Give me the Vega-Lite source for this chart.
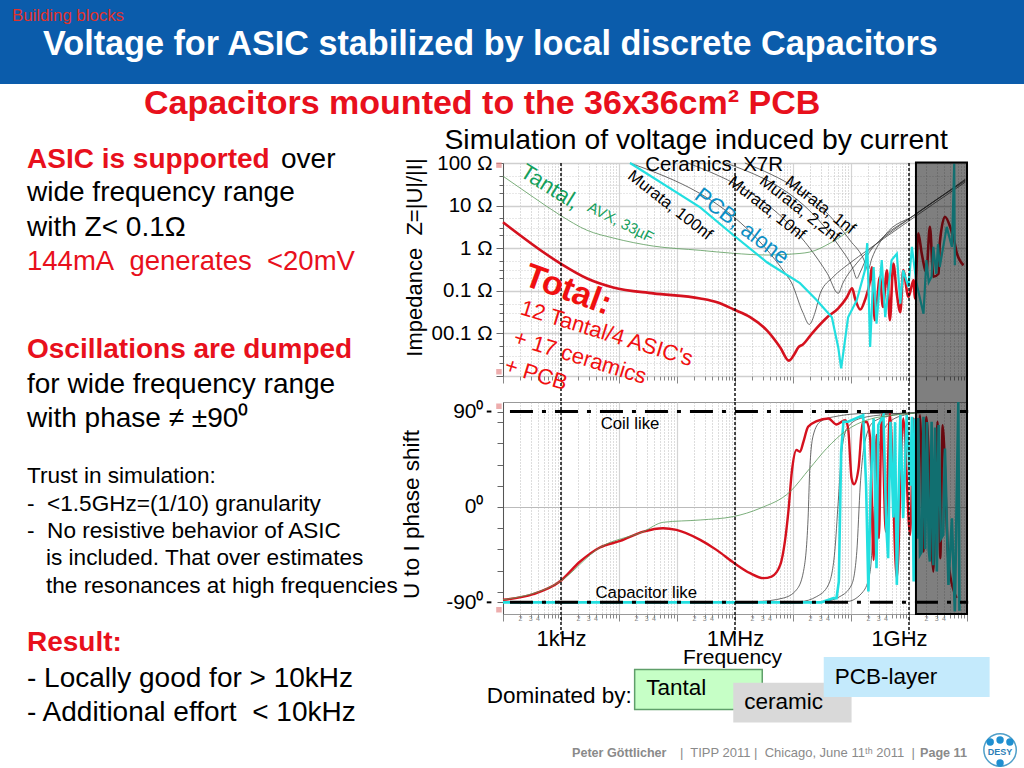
{
"$schema":"https://vega.github.io/schema/vega-lite/v6.json",
"padding":0,"background":"white","spacing":0,"bounds":"flush",
"config":{"font":"Liberation Sans","view":{"stroke":null},"text":{"font":"Liberation Sans"},"axis":{"labelFont":"Liberation Sans","titleFont":"Liberation Sans"}},
"datasets":{
"curvesZ":[
{"series":"100nf","f":4.19,"z":2.0},{"series":"100nf","f":6.95,"z":-0.75},{"series":"100nf","f":7.17,"z":-1.51},{"series":"100nf","f":7.28,"z":-1.79},{"series":"100nf","f":7.38,"z":-1.51},{"series":"100nf","f":7.47,"z":-1.06},{"series":"100nf","f":7.69,"z":-0.68},{"series":"100nf","f":7.98,"z":-0.35},{"series":"100nf","f":8.28,"z":-0.05},{"series":"100nf","f":8.84,"z":0.49},{"series":"100nf","f":9.97,"z":1.55},
{"series":"10nf","f":5.19,"z":2.0},{"series":"10nf","f":7.59,"z":-0.59},{"series":"10nf","f":7.78,"z":-1.06},{"series":"10nf","f":7.86,"z":-0.82},{"series":"10nf","f":8.10,"z":-0.35},{"series":"10nf","f":8.45,"z":0.12},{"series":"10nf","f":8.97,"z":0.66},{"series":"10nf","f":9.97,"z":1.58},
{"series":"2.2nf","f":5.84,"z":2.0},{"series":"2.2nf","f":7.81,"z":0.02},{"series":"2.2nf","f":8.03,"z":-0.47},{"series":"2.2nf","f":8.10,"z":-0.71},{"series":"2.2nf","f":8.16,"z":-0.56},{"series":"2.2nf","f":8.29,"z":-0.16},{"series":"2.2nf","f":8.50,"z":0.19},{"series":"2.2nf","f":9.02,"z":0.71},{"series":"2.2nf","f":9.97,"z":1.6},
{"series":"1nf","f":6.17,"z":2.0},{"series":"1nf","f":7.98,"z":0.19},{"series":"1nf","f":8.24,"z":-0.33},{"series":"1nf","f":8.29,"z":-0.52},{"series":"1nf","f":8.36,"z":-0.24},{"series":"1nf","f":8.59,"z":0.31},{"series":"1nf","f":9.10,"z":0.78},{"series":"1nf","f":9.97,"z":1.62},
{"series":"Tantal","f":2,"z":1.69},{"series":"Tantal","f":2.52,"z":1.20},{"series":"Tantal","f":2.98,"z":0.78},{"series":"Tantal","f":3.45,"z":0.42},{"series":"Tantal","f":3.90,"z":0.24},{"series":"Tantal","f":4.59,"z":0.05},{"series":"Tantal","f":5.40,"z":-0.05},{"series":"Tantal","f":5.97,"z":-0.12},{"series":"Tantal","f":6.55,"z":-0.16},{"series":"Tantal","f":6.95,"z":-0.14},{"series":"Tantal","f":7.29,"z":-0.09},{"series":"Tantal","f":7.64,"z":0.12},{"series":"Tantal","f":7.81,"z":0.26},{"series":"Tantal","f":8.1,"z":0.58},
{"series":"Total","f":2,"z":0.61},{"series":"Total","f":2.98,"z":-0.35},{"series":"Total","f":3.45,"z":-0.71},{"series":"Total","f":3.90,"z":-0.92},{"series":"Total","f":4.59,"z":-1.06},{"series":"Total","f":5.40,"z":-1.18},{"series":"Total","f":5.69,"z":-1.27},{"series":"Total","f":5.98,"z":-1.44},{"series":"Total","f":6.26,"z":-1.62},{"series":"Total","f":6.55,"z":-1.93},{"series":"Total","f":6.78,"z":-2.33},{"series":"Total","f":6.93,"z":-2.64},{"series":"Total","f":7.03,"z":-2.47},{"series":"Total","f":7.09,"z":-2.33},{"series":"Total","f":7.17,"z":-2.26},{"series":"Total","f":7.34,"z":-1.98},{"series":"Total","f":7.59,"z":-1.62},{"series":"Total","f":7.78,"z":-1.41},{"series":"Total","f":7.93,"z":-1.15},{"series":"Total","f":8.02,"z":-0.94},{"series":"Total","f":8.07,"z":-1.18},{"series":"Total","f":8.16,"z":-1.44},{"series":"Total","f":8.24,"z":-1.22},{"series":"Total","f":8.33,"z":-0.75},{"series":"Total","f":8.36,"z":-0.45},{"series":"Total","f":8.41,"z":-1.69},{"series":"Total","f":8.50,"z":-0.67},{"series":"Total","f":8.55,"z":-1.38},{"series":"Total","f":8.62,"z":-0.52},{"series":"Total","f":8.67,"z":-1.69},{"series":"Total","f":8.73,"z":-0.36},{"series":"Total","f":8.79,"z":-1.07},{"series":"Total","f":8.85,"z":-1.50},{"series":"Total","f":8.90,"z":-0.52},{"series":"Total","f":8.99,"z":-1.14},{"series":"Total","f":9.08,"z":-0.75},{"series":"Total","f":9.10,"z":-1.18},{"series":"Total","f":9.16,"z":0.35},{"series":"Total","f":9.22,"z":-0.13},{"series":"Total","f":9.30,"z":-0.56},{"series":"Total","f":9.36,"z":0.50},{"series":"Total","f":9.42,"z":-0.67},{"series":"Total","f":9.51,"z":-0.60},{"series":"Total","f":9.53,"z":0.11},{"series":"Total","f":9.62,"z":0.74},{"series":"Total","f":9.71,"z":0.50},{"series":"Total","f":9.79,"z":0.11},{"series":"Total","f":9.82,"z":-0.09},{"series":"Total","f":9.94,"z":-0.40},
{"series":"PCB","f":4.19,"z":2.0},{"series":"PCB","f":5.40,"z":0.96},{"series":"PCB","f":5.97,"z":0.31},{"series":"PCB","f":6.55,"z":-0.33},{"series":"PCB","f":7.12,"z":-0.82},{"series":"PCB","f":7.41,"z":-1.22},{"series":"PCB","f":7.67,"z":-1.62},{"series":"PCB","f":7.78,"z":-2.33},{"series":"PCB","f":7.83,"z":-2.82},{"series":"PCB","f":7.88,"z":-2.33},{"series":"PCB","f":7.95,"z":-1.62},{"series":"PCB","f":8.10,"z":-1.22},{"series":"PCB","f":8.24,"z":-0.52},{"series":"PCB","f":8.28,"z":0.12},{"series":"PCB","f":8.33,"z":-2.32},{"series":"PCB","f":8.39,"z":-0.44},{"series":"PCB","f":8.44,"z":-1.77},{"series":"PCB","f":8.53,"z":-0.28},{"series":"PCB","f":8.59,"z":-1.62},{"series":"PCB","f":8.70,"z":-0.28},{"series":"PCB","f":8.79,"z":-0.13},{"series":"PCB","f":8.85,"z":-1.30},{"series":"PCB","f":8.90,"z":-0.52},{"series":"PCB","f":8.99,"z":-0.91},{"series":"PCB","f":9.05,"z":0.03},{"series":"PCB","f":9.13,"z":-0.83},{"series":"PCB","f":9.25,"z":-1.54},{"series":"PCB","f":9.30,"z":-0.28},{"series":"PCB","f":9.34,"z":-0.8},{"series":"PCB","f":9.39,"z":-0.67},{"series":"PCB","f":9.42,"z":0.03},{"series":"PCB","f":9.47,"z":-0.6},{"series":"PCB","f":9.50,"z":0.1},{"series":"PCB","f":9.53,"z":-0.44},{"series":"PCB","f":9.65,"z":0.50},{"series":"PCB","f":9.74,"z":0.03},{"series":"PCB","f":9.78,"z":1.99},{"series":"PCB","f":9.79,"z":-0.40}
],
"curvesP":[
{"series":"100nf","f":2,"z":-90},{"series":"100nf","f":6.37,"z":-89.2},{"series":"100nf","f":6.83,"z":-86},{"series":"100nf","f":7.06,"z":-78.2},{"series":"100nf","f":7.18,"z":-61},{"series":"100nf","f":7.26,"z":-10.7},{"series":"100nf","f":7.29,"z":36.4},{"series":"100nf","f":7.35,"z":67.8},{"series":"100nf","f":7.47,"z":80.4},{"series":"100nf","f":7.70,"z":85},{"series":"100nf","f":8.27,"z":88.2},{"series":"100nf","f":9.08,"z":88.2},
{"series":"10nf","f":2,"z":-90},{"series":"10nf","f":7.12,"z":-89.2},{"series":"10nf","f":7.41,"z":-84.5},{"series":"10nf","f":7.61,"z":-73.5},{"series":"10nf","f":7.72,"z":-42.1},{"series":"10nf","f":7.78,"z":5},{"series":"10nf","f":7.84,"z":52.1},{"series":"10nf","f":7.93,"z":74.1},{"series":"10nf","f":8.16,"z":83.5},{"series":"10nf","f":8.62,"z":87.3},{"series":"10nf","f":9.1,"z":89},
{"series":"2.2nf","f":2,"z":-90},{"series":"2.2nf","f":7.52,"z":-89.2},{"series":"2.2nf","f":7.81,"z":-84.5},{"series":"2.2nf","f":8.01,"z":-73.5},{"series":"2.2nf","f":8.10,"z":-42.1},{"series":"2.2nf","f":8.16,"z":20.7},{"series":"2.2nf","f":8.24,"z":61.5},{"series":"2.2nf","f":8.39,"z":80.4},{"series":"2.2nf","f":8.73,"z":86.6},{"series":"2.2nf","f":9.1,"z":89},
{"series":"1nf","f":2,"z":-90},{"series":"1nf","f":7.93,"z":-89.2},{"series":"1nf","f":8.21,"z":-79.8},{"series":"1nf","f":8.33,"z":-61},{"series":"1nf","f":8.41,"z":5},{"series":"1nf","f":8.50,"z":61.5},{"series":"1nf","f":8.67,"z":80.4},{"series":"1nf","f":8.96,"z":87.3},{"series":"1nf","f":9.2,"z":89},
{"series":"Tantal","f":2,"z":-87.6},{"series":"Tantal","f":2.98,"z":-70.4},{"series":"Tantal","f":3.67,"z":-38.3},{"series":"Tantal","f":4.42,"z":-23.3},{"series":"Tantal","f":4.76,"z":-14.5},{"series":"Tantal","f":5.40,"z":-12.3},{"series":"Tantal","f":5.97,"z":-9.1},{"series":"Tantal","f":6.43,"z":-1.3},{"series":"Tantal","f":6.95,"z":14.4},{"series":"Tantal","f":7.29,"z":36.4},{"series":"Tantal","f":7.58,"z":55.2},{"series":"Tantal","f":7.93,"z":72.5},{"series":"Tantal","f":8.27,"z":81.9},{"series":"Tantal","f":8.85,"z":87.3},{"series":"Tantal","f":9.30,"z":89.2},
{"series":"Total","f":2.0,"z":-87.6},{"series":"Total","f":2.52,"z":-82.3},{"series":"Total","f":2.98,"z":-70.4},{"series":"Total","f":3.33,"z":-51.5},{"series":"Total","f":3.67,"z":-38.3},{"series":"Total","f":4.02,"z":-32.1},{"series":"Total","f":4.42,"z":-23.3},{"series":"Total","f":4.76,"z":-20.1},{"series":"Total","f":4.99,"z":-21.7},{"series":"Total","f":5.40,"z":-31.1},{"series":"Total","f":5.68,"z":-40.5},{"series":"Total","f":5.99,"z":-53.1},{"series":"Total","f":6.26,"z":-62.5},{"series":"Total","f":6.49,"z":-67.2},{"series":"Total","f":6.63,"z":-65.7},{"series":"Total","f":6.78,"z":-54.7},{"series":"Total","f":6.86,"z":-32.7},{"series":"Total","f":6.92,"z":-4.4},{"series":"Total","f":6.98,"z":33.3},{"series":"Total","f":7.06,"z":53.7},{"series":"Total","f":7.12,"z":52.1},{"series":"Total","f":7.18,"z":61.5},{"series":"Total","f":7.26,"z":75.6},{"series":"Total","f":7.41,"z":81},{"series":"Total","f":7.61,"z":83.5},{"series":"Total","f":7.75,"z":77.8},{"series":"Total","f":7.90,"z":81.9},{"series":"Total","f":7.95,"z":74.1},{"series":"Total","f":8.01,"z":27},{"series":"Total","f":8.05,"z":21.3},{"series":"Total","f":8.13,"z":36.4},{"series":"Total","f":8.20,"z":78.8},{"series":"Total","f":8.27,"z":80.4},{"series":"Total","f":8.33,"z":64.7},{"series":"Total","f":8.39,"z":-50},{"series":"Total","f":8.44,"z":67.8},{"series":"Total","f":8.48,"z":-29.5},{"series":"Total","f":8.53,"z":86.6},{"series":"Total","f":8.60,"z":-23.3},{"series":"Total","f":8.67,"z":88.2},{"series":"Total","f":8.79,"z":-67.2},{"series":"Total","f":8.90,"z":83.5},{"series":"Total","f":9.02,"z":-26.4},{"series":"Total","f":9.08,"z":83.5},{"series":"Total","f":9.10,"z":-32.7},{"series":"Total","f":9.19,"z":86.6},{"series":"Total","f":9.25,"z":-42.1},{"series":"Total","f":9.30,"z":85},{"series":"Total","f":9.42,"z":-61},{"series":"Total","f":9.49,"z":80.4},{"series":"Total","f":9.54,"z":-48.4},{"series":"Total","f":9.58,"z":77.2},{"series":"Total","f":9.68,"z":-51.5},{"series":"Total","f":9.82,"z":-86},
{"series":"PCB","f":2,"z":-90},{"series":"PCB","f":7.49,"z":-90},{"series":"PCB","f":7.70,"z":-86},{"series":"PCB","f":7.75,"z":-86},{"series":"PCB","f":7.79,"z":-70.4},{"series":"PCB","f":7.83,"z":52.1},{"series":"PCB","f":7.87,"z":80.4},{"series":"PCB","f":7.95,"z":80.4},{"series":"PCB","f":8.21,"z":86.6},{"series":"PCB","f":8.26,"z":20.7},{"series":"PCB","f":8.30,"z":-79.8},{"series":"PCB","f":8.34,"z":20.7},{"series":"PCB","f":8.39,"z":83.5},{"series":"PCB","f":8.44,"z":-57.8},{"series":"PCB","f":8.47,"z":77.2},{"series":"PCB","f":8.56,"z":86.6},{"series":"PCB","f":8.61,"z":-20},{"series":"PCB","f":8.64,"z":-48.4},{"series":"PCB","f":8.68,"z":80.4},{"series":"PCB","f":8.73,"z":-10},{"series":"PCB","f":8.76,"z":80},{"series":"PCB","f":8.79,"z":-73.5},{"series":"PCB","f":8.85,"z":86.6},{"series":"PCB","f":8.90,"z":-10.7},{"series":"PCB","f":8.96,"z":86.6},{"series":"PCB","f":9.02,"z":20},{"series":"PCB","f":9.05,"z":85},{"series":"PCB","f":9.08,"z":-70.4},{"series":"PCB","f":9.10,"z":83.5},{"series":"PCB","f":9.14,"z":-30},{"series":"PCB","f":9.16,"z":84},{"series":"PCB","f":9.19,"z":-45},{"series":"PCB","f":9.22,"z":-42.1},{"series":"PCB","f":9.25,"z":85},{"series":"PCB","f":9.28,"z":-40},{"series":"PCB","f":9.31,"z":80},{"series":"PCB","f":9.34,"z":-40},{"series":"PCB","f":9.36,"z":-51.5},{"series":"PCB","f":9.39,"z":80.4},{"series":"PCB","f":9.42,"z":-55},{"series":"PCB","f":9.45,"z":75},{"series":"PCB","f":9.48,"z":-61},{"series":"PCB","f":9.51,"z":77.2},{"series":"PCB","f":9.55,"z":-30},{"series":"PCB","f":9.59,"z":-26.4},{"series":"PCB","f":9.62,"z":55.2},{"series":"PCB","f":9.68,"z":-73.5},{"series":"PCB","f":9.74,"z":-10.7},{"series":"PCB","f":9.79,"z":-98.6},{"series":"PCB","f":9.85,"z":99},{"series":"PCB","f":9.87,"z":-98}
],
"vlines":[{"f":3},{"f":6},{"f":9}],
"tiny":[{"f":2.301,"t":"2"},{"f":2.477,"t":"3"},{"f":2.602,"t":"4"},{"f":3.301,"t":"2"},{"f":3.477,"t":"3"},{"f":3.602,"t":"4"},{"f":4.301,"t":"2"},{"f":4.477,"t":"3"},{"f":4.602,"t":"4"},{"f":5.301,"t":"2"},{"f":5.477,"t":"3"},{"f":5.602,"t":"4"},{"f":6.301,"t":"2"},{"f":6.477,"t":"3"},{"f":6.602,"t":"4"},{"f":7.301,"t":"2"},{"f":7.477,"t":"3"},{"f":7.602,"t":"4"},{"f":8.301,"t":"2"},{"f":8.477,"t":"3"},{"f":8.602,"t":"4"},{"f":9.301,"t":"2"},{"f":9.477,"t":"3"},{"f":9.602,"t":"4"}]
},
"vconcat":[
{"width":1024,"height":84,"view":{"fill":"#0b5cab","stroke":null},
 "encoding":{"x":{"field":"x","type":"quantitative","scale":{"domain":[0,1024]},"axis":null},"y":{"field":"y","type":"quantitative","scale":{"domain":[84,0]},"axis":null},"text":{"field":"t"}},
 "layer":[
  {"data":{"values":[{"x":12,"y":16,"t":"Building blocks"}]},"mark":{"type":"text","align":"left","baseline":"middle","fontSize":16.8,"color":"#e0322c"}},
  {"data":{"values":[{"x":43,"y":45,"t":"Voltage for ASIC stabilized by local discrete Capacitors"}]},"mark":{"type":"text","align":"left","baseline":"middle","fontSize":34.2,"fontWeight":"bold","color":"white"}}
 ]},
{"spacing":0,"bounds":"flush","hconcat":[
 {"width":503,"height":684,
  "encoding":{"x":{"field":"x","type":"quantitative","scale":{"domain":[0,503]},"axis":null},"y":{"field":"y","type":"quantitative","scale":{"domain":[683,-1]},"axis":null},"text":{"field":"t"}},
  "layer":[
  {"data":{"values":[{"x":27,"y":75,"t":"ASIC is supported"},{"x":27,"y":265,"t":"Oscillations are dumped"},{"x":27,"y":558,"t":"Result:"}]},"mark":{"type":"text","align":"left","baseline":"middle","fontSize":28,"fontWeight":"bold","color":"#e8101c"}},
  {"data":{"values":[{"x":27,"y":177,"t":"144mA\u00a0 generates\u00a0 <20mV"}]},"mark":{"type":"text","align":"left","baseline":"middle","fontSize":27.5,"color":"#e8101c"}},
  {"data":{"values":[{"x":281,"y":75,"t":"over"},{"x":27,"y":108,"t":"wide frequency range"},{"x":27,"y":143,"t":"with Z< 0.1Ω"},{"x":27,"y":300,"t":"for wide frequency range"},{"x":27,"y":334,"t":"with phase ≠ ±90⁰"},{"x":27,"y":594,"t":"- Locally good for > 10kHz"},{"x":27,"y":628,"t":"- Additional effort\u00a0 < 10kHz"}]},"mark":{"type":"text","align":"left","baseline":"middle","fontSize":28,"color":"black"}},
  {"data":{"values":[{"x":27,"y":391,"t":"Trust in simulation:"},{"x":27,"y":419,"t":"-\u00a0 <1.5GHz=(1/10) granularity"},{"x":27,"y":446,"t":"-\u00a0 No resistive behavior of ASIC"},{"x":46,"y":473,"t":"is included. That over estimates"},{"x":46,"y":501,"t":"the resonances at high frequencies"}]},"mark":{"type":"text","align":"left","baseline":"middle","fontSize":22.6,"color":"black"}}
  ]},
 {"spacing":26,"bounds":"flush","vconcat":[
  {"width":464,"height":53,
   "encoding":{"x":{"field":"f","type":"quantitative","scale":{"domain":[2,10]},"axis":null},"y":{"field":"z","type":"quantitative","scale":{"domain":[53,0]},"axis":null},"text":{"field":"t"}},
   "layer":[
   {"data":{"values":[{"f":1.64,"z":20,"t":"Capacitors mounted to the 36x36cm² PCB"}]},"mark":{"type":"text","baseline":"middle","fontSize":34,"fontWeight":"bold","color":"#e8101c"}},
   {"data":{"values":[{"f":5.33,"z":57,"t":"Simulation of voltage induced by current"}]},"mark":{"type":"text","baseline":"middle","fontSize":28.3,"color":"black"}}
   ]},
  {"width":464,"height":213,"view":{"stroke":"#999"},
   "encoding":{
    "x":{"field":"f","type":"quantitative","scale":{"domain":[2,10],"nice":false},"axis":{"title":null,"labels":false,"domain":false,"tickColor":"#888","tickSize":{"condition":{"test":"datum.value%1==0","value":7},"value":4},"gridColor":{"condition":{"test":"datum.value%1==0","value":"#d4d4d4"},"value":"#aaa"},"gridDash":{"condition":{"test":"datum.value%1==0","value":[]},"value":[1,2]},"gridWidth":{"condition":{"test":"datum.value%1==0","value":1.2},"value":0.8},"values":[2,2.301,2.477,2.602,2.699,2.778,2.845,2.903,2.954,3,3.301,3.477,3.602,3.699,3.778,3.845,3.903,3.954,4,4.301,4.477,4.602,4.699,4.778,4.845,4.903,4.954,5,5.301,5.477,5.602,5.699,5.778,5.845,5.903,5.954,6,6.301,6.477,6.602,6.699,6.778,6.845,6.903,6.954,7,7.301,7.477,7.602,7.699,7.778,7.845,7.903,7.954,8,8.301,8.477,8.602,8.699,8.778,8.845,8.903,8.954,9,9.301,9.477,9.602,9.699,9.778,9.845,9.903,9.954,10]}},
    "y":{"field":"z","type":"quantitative","scale":{"domain":[-3,2],"nice":false},"axis":{"title":"Impedance\u00a0 Z=|U|/|I|","titleFontSize":22,"titleFontWeight":"normal","titleColor":"black","titleAngle":-90,"titleX":-77,"titleY":94,"domainColor":"#555","tickColor":"#666","tickSize":{"condition":{"test":"datum.value%1==0","value":7},"value":4},"labelFontSize":20.5,"labelColor":"black","labelPadding":4,"labelBound":false,"labelFlush":false,"labelOverlap":false,"labelExpr":"datum.value==2?'100 Ω':datum.value==1?'10 Ω':datum.value==0?'1 Ω':datum.value==-1?'0.1 Ω':datum.value==-2?'00.1 Ω':''","gridColor":{"condition":{"test":"datum.value%1==0","value":"#cfcfcf"},"value":"#c4c4c4"},"gridDash":{"condition":{"test":"datum.value%1==0","value":[]},"value":[1,2]},"gridWidth":{"condition":{"test":"datum.value%1==0","value":1.5},"value":0.8},"values":[-3,-2.7,-2.52,-2.3,-2,-1.7,-1.52,-1.3,-1,-0.7,-0.52,-0.3,0,0.3,0.48,0.7,1,1.3,1.48,1.7,2]}}
   },
   "layer":[
   {"data":{"name":"curvesZ"},"transform":[{"filter":"datum.series=='100nf'||datum.series=='10nf'||datum.series=='2.2nf'||datum.series=='1nf'"}],"mark":{"type":"line","interpolate":"monotone","color":"#444","strokeWidth":0.8},"encoding":{"detail":{"field":"series"}}},
   {"data":{"name":"curvesZ"},"transform":[{"filter":"datum.series=='Tantal'"}],"mark":{"type":"line","interpolate":"monotone","color":"#5a9a5a","strokeWidth":0.8}},
   {"data":{"name":"curvesZ"},"transform":[{"filter":"datum.series=='Total'"}],"mark":{"type":"line","interpolate":"monotone","color":"#d5111e","strokeWidth":2.6}},
   {"data":{"name":"curvesZ"},"transform":[{"filter":"datum.series=='PCB'"}],"mark":{"type":"line","color":"#22dfe0","strokeWidth":2.2}},
   {"data":{"name":"vlines"},"transform":[{"calculate":"2","as":"z"},{"calculate":"-3.62","as":"z2"}],"mark":{"type":"rule","color":"black","strokeDash":[3,2],"strokeWidth":1.4},"encoding":{"y2":{"field":"z2"}}},
   {"data":{"values":[{"f":2.81,"z":1.44,"t":"Tantal,"}]},"mark":{"type":"text","fontSize":22,"angle":32,"color":"#14a05c"},"encoding":{"text":{"field":"t"}}},
   {"data":{"values":[{"f":4.03,"z":0.61,"t":"AVX, 33µF"}]},"mark":{"type":"text","fontSize":15,"angle":27,"color":"#14a05c"},"encoding":{"text":{"field":"t"}}},
   {"data":{"values":[{"f":5.64,"z":1.95,"t":"Ceramics\u00a0 X7R"}]},"mark":{"type":"text","fontSize":20.5,"color":"black"},"encoding":{"text":{"field":"t"}}},
   {"data":{"values":[{"f":4.88,"z":1.01,"t":"Murata, 100nf"},{"f":6.55,"z":0.94,"t":"Murata, 10nf"},{"f":7.12,"z":0.92,"t":"Murata, 2,2nf"},{"f":7.47,"z":1.01,"t":"Murata, 1nf"}]},"mark":{"type":"text","fontSize":16.5,"angle":38,"color":"black"},"encoding":{"text":{"field":"t"}}},
   {"data":{"values":[{"f":6.12,"z":0.52,"t":"PCB, alone"}]},"mark":{"type":"text","fontSize":22,"angle":37,"color":"#0b8ec4"},"encoding":{"text":{"field":"t"}}},
   {"data":{"values":[{"f":3.12,"z":-0.99,"t":"Total:"}]},"mark":{"type":"text","fontSize":34,"fontWeight":"bold","angle":20,"color":"#f01010"},"encoding":{"text":{"field":"t"}}},
   {"data":{"values":[{"f":3.79,"z":-2.0,"t":"12 Tantal/4 ASIC's"},{"f":3.33,"z":-2.56,"t":"+ 17 ceramics"},{"f":2.57,"z":-2.96,"t":"+ PCB"}]},"mark":{"type":"text","fontSize":22,"angle":17,"color":"#f01010"},"encoding":{"text":{"field":"t"}}},
   {"data":{"values":[{"f":1.93,"z":1.95},{"f":1.93,"z":-2.9}]},"mark":{"type":"square","size":30,"color":"#e58a8a"}}
   ]},
  {"width":464,"height":212,"view":{"stroke":"#999"},
   "encoding":{
    "x":{"field":"f","type":"quantitative","scale":{"domain":[2,10],"nice":false},"axis":{"title":"Frequency","titleFontSize":21,"titleFontWeight":"normal","titleColor":"black","titleX":229,"titleY":32,"tickColor":"#888","domain":false,"tickSize":{"condition":{"test":"datum.value%1==0","value":7},"value":4},"labelFontSize":22,"labelColor":"black","labelPadding":7,"labelFlush":false,"labelBound":false,"labelOverlap":false,"labelOffset":{"condition":{"test":"datum.value==9","value":-10},"value":0},"labelExpr":"datum.value==3?'1kHz':datum.value==6?'1MHz':datum.value==9?'1GHz':''","gridColor":{"condition":{"test":"datum.value%1==0","value":"#d4d4d4"},"value":"#aaa"},"gridDash":{"condition":{"test":"datum.value%1==0","value":[]},"value":[1,2]},"gridWidth":{"condition":{"test":"datum.value%1==0","value":1.2},"value":0.8},"values":[2,2.301,2.477,2.602,2.699,2.778,2.845,2.903,2.954,3,3.301,3.477,3.602,3.699,3.778,3.845,3.903,3.954,4,4.301,4.477,4.602,4.699,4.778,4.845,4.903,4.954,5,5.301,5.477,5.602,5.699,5.778,5.845,5.903,5.954,6,6.301,6.477,6.602,6.699,6.778,6.845,6.903,6.954,7,7.301,7.477,7.602,7.699,7.778,7.845,7.903,7.954,8,8.301,8.477,8.602,8.699,8.778,8.845,8.903,8.954,9,9.301,9.477,9.602,9.699,9.778,9.845,9.903,9.954,10]}},
    "y":{"field":"z","type":"quantitative","scale":{"domain":[-101,99],"nice":false},"axis":{"title":"U to I phase shift","titleFontSize":22.5,"titleFontWeight":"normal","titleColor":"black","titleAngle":-90,"titleX":-80,"titleY":112,"domainColor":"#555","tickColor":"#666","tickSize":6,"labelFontSize":21,"labelColor":"black","labelPadding":14,"labelBound":false,"labelFlush":false,"labelOverlap":false,"labelExpr":"datum.value==90?'90⁰':datum.value==0?'0⁰':datum.value==-90?'-90⁰':''","gridColor":"#bbb","gridOpacity":{"condition":{"test":"datum.value==0","value":1},"value":0},"values":[-90,-80,-60,-40,-20,0,20,40,60,80,90]}}
   },
   "layer":[
   {"data":{"name":"curvesP"},"transform":[{"filter":"datum.series=='100nf'||datum.series=='10nf'||datum.series=='2.2nf'||datum.series=='1nf'"}],"mark":{"type":"line","interpolate":"monotone","color":"#444","strokeWidth":0.8},"encoding":{"detail":{"field":"series"}}},
   {"data":{"name":"curvesP"},"transform":[{"filter":"datum.series=='Total'"}],"mark":{"type":"line","interpolate":"monotone","color":"#d5111e","strokeWidth":2.4}},
   {"data":{"name":"curvesP"},"transform":[{"filter":"datum.series=='PCB'"}],"mark":{"type":"line","color":"#22dfe0","strokeWidth":2.6}},
   {"data":{"name":"curvesP"},"transform":[{"filter":"datum.series=='Tantal'"}],"mark":{"type":"line","interpolate":"monotone","color":"#5a9a5a","strokeWidth":0.8}},
   {"data":{"values":[{"f":2.12,"f2":10.02,"z":90},{"f":2.12,"f2":10.02,"z":-90}]},"mark":{"type":"rule","color":"black","strokeWidth":3,"strokeDash":[23,9,4,9]},"encoding":{"x2":{"field":"f2"}}},
   {"data":{"values":[{"f":1.72,"f2":1.80,"z":90},{"f":1.72,"f2":1.80,"z":-90}]},"mark":{"type":"rule","color":"black","strokeWidth":2},"encoding":{"x2":{"field":"f2"}}},
   {"data":{"name":"vlines"},"transform":[{"calculate":"99","as":"z"},{"calculate":"-120","as":"z2"}],"mark":{"type":"rule","color":"black","strokeDash":[3,2],"strokeWidth":1.4},"encoding":{"y2":{"field":"z2"}}},
   {"data":{"values":[{"f":4.19,"z":78.2,"t":"Coil like"},{"f":4.47,"z":-81,"t":"Capacitor like"}]},"mark":{"type":"text","fontSize":16.8,"color":"black"},"encoding":{"text":{"field":"t"}}},
   {"data":{"name":"tiny"},"transform":[{"calculate":"-106","as":"z"}],"mark":{"type":"text","fontSize":7,"color":"#888"},"encoding":{"text":{"field":"t"}}},
   {"data":{"values":[{"f":1.93,"z":95},{"f":1.93,"z":-97}]},"mark":{"type":"square","size":30,"color":"#e58a8a"}},
   {"data":{"values":[{"f":9.12,"f2":10.0,"z":-101,"z2":325}]},"mark":{"type":"rect","fill":"black","fillOpacity":0.5,"stroke":"black","strokeWidth":2},"encoding":{"x2":{"field":"f2"},"y2":{"field":"z2"}}}
   ]},
  {"width":464,"height":128,
   "encoding":{"x":{"field":"f","type":"quantitative","scale":{"domain":[2,10]},"axis":null},"y":{"field":"z","type":"quantitative","scale":{"domain":[128,0]},"axis":null}},
   "layer":[
   {"data":{"values":[{"f":4.27,"f2":6.47,"z":29.5,"z2":69.4}]},"mark":{"type":"rect","fill":"#c6ffc6","stroke":"#5f9f6a","strokeWidth":1.5},"encoding":{"x2":{"field":"f2"},"y2":{"field":"z2"}}},
   {"data":{"values":[{"f":5.97,"f2":8.01,"z":42.7,"z2":82.6}]},"mark":{"type":"rect","fill":"#d9d9d9"},"encoding":{"x2":{"field":"f2"},"y2":{"field":"z2"}}},
   {"data":{"values":[{"f":7.53,"f2":10.39,"z":17,"z2":57}]},"mark":{"type":"rect","fill":"#c4eafc"},"encoding":{"x2":{"field":"f2"},"y2":{"field":"z2"}}},
   {"data":{"values":[{"f":4.47,"z":48,"t":"Tantal"},{"f":6.16,"z":62,"t":"ceramic"},{"f":7.72,"z":37,"t":"PCB-layer"},{"f":1.72,"z":56,"t":"Dominated by:"}]},"mark":{"type":"text","align":"left","baseline":"middle","fontSize":22.5,"color":"black"},"encoding":{"text":{"field":"t"}}},
   {"data":{"values":[{"f":3.19,"z":113,"t":"Peter Göttlicher"},{"f":9.19,"z":113,"t":"Page 11"}]},"mark":{"type":"text","align":"left","baseline":"middle","fontSize":12.6,"fontWeight":"bold","color":"#8a8a8a"},"encoding":{"text":{"field":"t"}}},
   {"data":{"values":[{"f":5.05,"z":113,"t":"|\u00a0 TIPP 2011 |\u00a0 Chicago, June 11ᵗʰ 2011\u00a0 |"}]},"mark":{"type":"text","align":"left","baseline":"middle","fontSize":13,"color":"#8a8a8a"},"encoding":{"text":{"field":"t"}}},
   {"data":{"values":[{"f":10.57,"z":110}]},"mark":{"type":"circle","size":1050,"fill":"white","stroke":"#4f9fc9","strokeWidth":1.5,"opacity":1}},
   {"data":{"values":[{"f":10.57,"z":100},{"f":10.57,"z":123},{"f":10.4,"z":102},{"f":10.74,"z":102}]},"mark":{"type":"circle","size":55,"color":"#1f8fd0","opacity":1}},
   {"data":{"values":[{"f":10.57,"z":112,"t":"DESY"}]},"mark":{"type":"text","fontSize":9,"fontWeight":"bold","color":"#2b7fb8"},"encoding":{"text":{"field":"t"}}}
   ]}
 ]}
]}
]}
